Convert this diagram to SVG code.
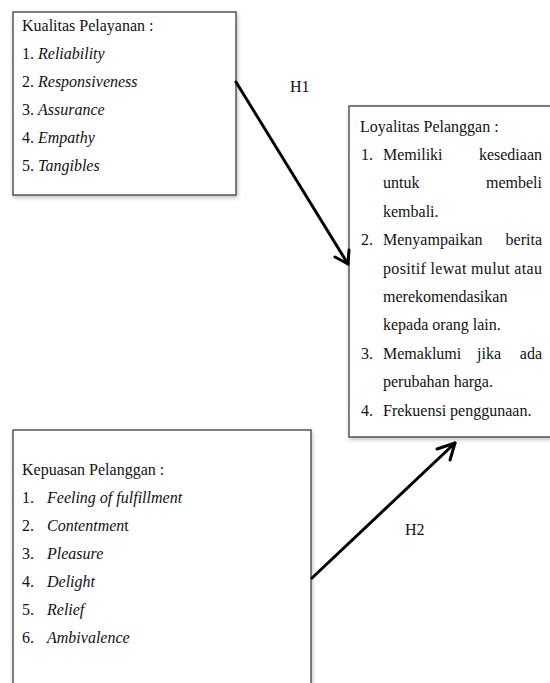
<svg xmlns="http://www.w3.org/2000/svg" width="550" height="683" viewBox="0 0 550 683">
<style>
.box{fill:#fff;stroke:#555;stroke-width:1.5}
text{font-family:"Liberation Serif","Times New Roman",serif;font-size:16px;fill:#111}
.i{font-style:italic}
.e{text-anchor:end}
.conn{stroke:#000;stroke-width:3;fill:none;stroke-linecap:round;stroke-linejoin:round}
</style>
<defs>
<filter id="sh" x="-5%" y="-5%" width="110%" height="110%">
<feGaussianBlur in="SourceAlpha" stdDeviation="2"/>
<feOffset dx="1" dy="2"/>
<feComponentTransfer><feFuncA type="linear" slope="0.25"/></feComponentTransfer>
<feMerge><feMergeNode/><feMergeNode in="SourceGraphic"/></feMerge>
</filter>
</defs>
<rect width="550" height="683" fill="#fff"/>
<g id="kualitas">
<rect class="box" x="13" y="12" width="223" height="183" filter="url(#sh)"/>
<text x="22" y="31">Kualitas Pelayanan :</text>
<text x="22" y="59">1. <tspan class="i">Reliability</tspan></text>
<text x="22" y="87">2. <tspan class="i">Responsiveness</tspan></text>
<text x="22" y="115">3. <tspan class="i">Assurance</tspan></text>
<text x="22" y="143">4. <tspan class="i">Empathy</tspan></text>
<text x="22" y="171">5. <tspan class="i">Tangibles</tspan></text>
</g>
<g id="loyalitas">
<rect class="box" x="349" y="106" width="203" height="331" filter="url(#sh)"/>
<text x="360" y="131.5">Loyalitas Pelanggan :</text>
<text x="361" y="160">1.</text>
<text x="383" y="160">Memiliki</text>
<text class="e" x="542" y="160">kesediaan</text>
<text x="383" y="188.4">untuk</text>
<text class="e" x="542" y="188.4">membeli</text>
<text x="383" y="216.8">kembali.</text>
<text x="361" y="245.2">2.</text>
<text x="383" y="245.2">Menyampaikan</text>
<text class="e" x="542" y="245.2">berita</text>
<text x="383" y="273.6" textLength="159" lengthAdjust="spacing">positif lewat mulut atau</text>
<text x="383" y="302">merekomendasikan</text>
<text x="383" y="330.4">kepada orang lain.</text>
<text x="361" y="358.8">3.</text>
<text x="383" y="358.8">Memaklumi</text>
<text x="477" y="358.8">jika</text>
<text class="e" x="542" y="358.8">ada</text>
<text x="383" y="387.2">perubahan harga.</text>
<text x="361" y="415.6">4.</text>
<text x="383" y="415.6">Frekuensi penggunaan.</text>
</g>
<g id="kepuasan">
<rect class="box" x="13" y="430" width="298" height="270" filter="url(#sh)"/>
<text x="22" y="475">Kepuasan Pelanggan :</text>
<text x="22" y="503">1.</text><text class="i" x="47" y="503">Feeling of fulfillment</text>
<text x="22" y="531">2.</text><text x="47" y="531"><tspan class="i">Contentmen</tspan>t</text>
<text x="22" y="559">3.</text><text class="i" x="47" y="559">Pleasure</text>
<text x="22" y="587">4.</text><text class="i" x="47" y="587">Delight</text>
<text x="22" y="615">5.</text><text class="i" x="47" y="615">Relief</text>
<text x="22" y="643">6.</text><text class="i" x="47" y="643">Ambivalence</text>
</g>
<g id="connectors">
<path class="conn" d="M236 82 L348 264"/>
<path class="conn" d="M335 257 L348 264 L349 250"/>
<text x="290" y="92">H1</text>
<path class="conn" d="M312 578 L455 443"/>
<path class="conn" d="M437 449 L455 443 L450 460"/>
<text x="405" y="535">H2</text>
</g>
</svg>
